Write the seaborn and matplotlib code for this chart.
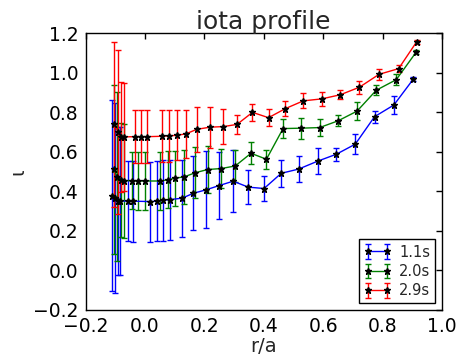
import numpy as np
import matplotlib
matplotlib.use("Agg")
import matplotlib.pyplot as plt
import seaborn as sns

# radial positions (r/a), iota values and uncertainties for each time slice
r_11 = [-0.110, -0.100, -0.090, -0.083, -0.058, -0.039, 0.018, 0.040, 0.062, 0.084,
        0.125, 0.163, 0.205, 0.250, 0.297, 0.348, 0.401, 0.459, 0.517, 0.581,
        0.644, 0.708, 0.773, 0.838, 0.904]
iota_11 = [0.378, 0.365, 0.351, 0.350, 0.351, 0.350, 0.348, 0.350, 0.355, 0.358,
           0.365, 0.390, 0.407, 0.429, 0.451, 0.421, 0.414, 0.491, 0.512, 0.552,
           0.587, 0.638, 0.777, 0.836, 0.968]
err_11 = [0.483, 0.481, 0.375, 0.375, 0.204, 0.204, 0.202, 0.202, 0.204, 0.202,
          0.195, 0.188, 0.195, 0.170, 0.157, 0.085, 0.063, 0.069, 0.066, 0.065,
          0.034, 0.050, 0.030, 0.044, 0.009]

r_20 = [-0.105, -0.093, -0.079, -0.071, -0.045, -0.024, -0.001, 0.052, 0.076, 0.102,
        0.132, 0.170, 0.211, 0.257, 0.304, 0.357, 0.409, 0.465, 0.526, 0.588,
        0.650, 0.714, 0.779, 0.846, 0.913]
iota_20 = [0.512, 0.474, 0.456, 0.454, 0.454, 0.452, 0.452, 0.452, 0.458, 0.466,
           0.473, 0.494, 0.510, 0.515, 0.528, 0.592, 0.562, 0.717, 0.719, 0.722,
           0.756, 0.805, 0.911, 0.964, 1.103]
err_20 = [0.427, 0.426, 0.288, 0.288, 0.146, 0.146, 0.146, 0.145, 0.145, 0.140,
          0.137, 0.129, 0.117, 0.099, 0.080, 0.055, 0.049, 0.048, 0.053, 0.044,
          0.028, 0.044, 0.024, 0.028, 0.010]

r_29 = [-0.104, -0.090, -0.079, -0.071, -0.033, -0.013, 0.006, 0.056, 0.080, 0.107,
        0.138, 0.174, 0.219, 0.264, 0.310, 0.362, 0.416, 0.473, 0.533, 0.595,
        0.658, 0.722, 0.788, 0.854, 0.915]
iota_29 = [0.739, 0.700, 0.673, 0.675, 0.676, 0.676, 0.676, 0.678, 0.680, 0.683,
           0.690, 0.713, 0.724, 0.727, 0.738, 0.799, 0.772, 0.818, 0.857, 0.867,
           0.888, 0.926, 0.991, 1.020, 1.156]
err_29 = [0.417, 0.416, 0.277, 0.272, 0.135, 0.135, 0.135, 0.132, 0.130, 0.126,
          0.122, 0.115, 0.104, 0.089, 0.050, 0.043, 0.043, 0.040, 0.038, 0.036,
          0.024, 0.032, 0.028, 0.016, 0.010]

labels = ["1.1s", "2.0s", "2.9s"]
colors = ["#0000ff", "#008000", "#ff0000"]

sns.set_style("white")
plt.rcParams["font.family"] = ["DejaVu Sans"]

fig = plt.figure(figsize=(4.63, 3.58), dpi=100)
ax = fig.add_axes([0.1847, 0.1341, 0.7699, 0.7737])

series = [(r_11, iota_11, err_11), (r_20, iota_20, err_20), (r_29, iota_29, err_29)]
for (r, v, e), lab, col in zip(series, labels, colors):
    ax.errorbar(r, v, yerr=e, fmt="-*", color=col, ecolor=col, lw=1.0,
                elinewidth=1.0, capsize=2.2, capthick=1.0,
                mfc="black", mec="black", ms=5, label=lab)

ax.set_xlim(-0.2, 1.0)
ax.set_ylim(-0.2, 1.2)
ax.set_xticks(np.arange(-0.2, 1.01, 0.2))
ax.set_yticks(np.arange(-0.2, 1.21, 0.2))
ax.tick_params(direction="in", length=4, width=1, top=True, right=True,
               labelsize=13.5, pad=5, colors="black")
for sp in ax.spines.values():
    sp.set_color("black")
    sp.set_linewidth(1.0)

ax.set_title("iota profile", fontsize=18, pad=3)
ax.set_xlabel("r/a", fontsize=14, labelpad=1)
ax.set_ylabel("\u03b9", fontsize=14, labelpad=4)

leg = ax.legend(loc="lower right", fontsize=10.5, numpoints=2, fancybox=False,
                framealpha=1, edgecolor="black", borderaxespad=0.45,
                handlelength=1.9, handletextpad=0.5, borderpad=0.35,
                labelspacing=0.3)
leg.get_frame().set_linewidth(1.0)

fig.savefig("out.png", dpi=100)
